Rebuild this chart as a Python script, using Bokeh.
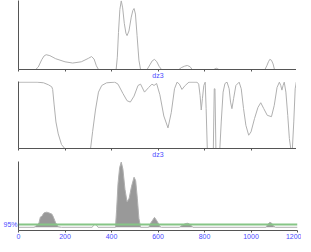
from bokeh.plotting import figure
from bokeh.layouts import column
from bokeh.models import FixedTicker, Range1d
from bokeh.embed import file_html
from bokeh.resources import INLINE

# ---- data ----
x_ticks = [0, 200, 400, 600, 800, 1000, 1200]
x_label = "dz3"
x_label_pos = 600
thr_label = "95%"

# panel 1: profile
p1_x = [0, 60, 74, 85, 100, 110, 119, 135, 160, 200, 233, 270, 300, 314, 325, 335, 344,
        420, 425, 430, 436, 442, 448, 455, 462, 467, 475, 485, 492, 497, 503, 510, 518, 525,
        553, 565, 575, 585, 595, 605, 615,
        690, 700, 715, 726, 738, 747,
        840, 851, 862,
        1060, 1068, 1075, 1081, 1088, 1095, 1101, 1200]
p1_y = [0, 0, 0, 8, 32, 44, 48, 45, 35, 25, 21, 25, 36, 42, 34, 12, 0,
        0, 40, 120, 195, 223, 200, 150, 118, 110, 125, 170, 192, 198, 180, 110, 30, 0,
        0, 15, 28, 33, 25, 10, 0,
        0, 6, 11, 13, 9, 0,
        0, 4, 0,
        0, 12, 25, 33, 30, 18, 0, 0]

# panel 2: ratio curve (0..1)
p2_x = [0, 80, 108, 129, 143, 147, 153, 161, 171, 185, 199,
        310, 319, 331, 344, 358, 379, 414, 428, 449, 467, 481, 497, 514, 525, 542, 560,
        574, 583, 594, 608, 625, 643, 657, 671, 682, 692, 703, 717, 733, 768,
        775, 781, 786, 791, 797, 803, 807, 812, 838, 842, 845, 849, 866, 872, 880, 888,
        897, 906, 912, 918, 925, 935, 949, 958, 968, 978, 990, 1000, 1015, 1030, 1042,
        1055, 1070, 1088, 1100, 1112, 1122, 1128, 1133, 1138, 1143, 1150, 1158, 1165,
        1171, 1178, 1184, 1190, 1195, 1200]
p2_y = [1.0, 1.0, 0.99, 0.96, 0.93, 0.89, 0.67, 0.40, 0.22, 0.06, 0.0,
        0.0, 0.26, 0.58, 0.85, 0.95, 0.99, 1.0, 0.97, 0.83, 0.72, 0.70, 0.79, 0.95, 0.97, 0.85, 0.92,
        0.97, 0.95, 0.98, 0.81, 0.49, 0.31, 0.54, 0.90, 1.0, 0.97, 0.89, 0.95, 1.0, 1.0,
        0.97, 0.80, 0.58, 0.75, 0.95, 1.0, 0.60, 0.0, 0.0, 0.90, 0.90, 0.0, 0.0, 0.40, 0.85, 0.98,
        1.0, 0.90, 0.70, 0.60, 0.75, 0.95, 1.0, 0.90, 0.60, 0.35, 0.20, 0.25, 0.45, 0.62, 0.69,
        0.60, 0.50, 0.48, 0.65, 0.92, 1.0, 0.95, 0.88, 0.95, 1.0, 0.85, 0.50, 0.15,
        0.0, 0.0, 0.40, 0.90, 1.0, 0.76]

# panel 3: significance profile with 95% threshold
p3_x = [0, 67, 81, 88, 94, 101, 108, 111, 122, 136, 144, 150, 160, 171, 185,
        317, 322, 328, 334, 342,
        417, 422, 428, 435, 442, 449, 458, 467, 476, 486, 497, 504, 511, 518, 525,
        560, 569, 585, 597, 608, 615,
        692, 706, 719, 729, 740, 750,
        1064, 1072, 1081, 1089, 1097, 1106, 1200]
p3_y = [0, 0, 8, 15, 35, 38, 48, 50, 52, 48, 45, 35, 15, 2, 0,
        0, 6, 10, 9, 0,
        0, 60, 150, 205, 224, 200, 130, 87, 100, 140, 172, 160, 100, 30, 0,
        0, 15, 34, 20, 3, 0,
        0, 8, 13, 14, 8, 0,
        0, 10, 17, 14, 4, 0, 0]
threshold = 10

# ---- styles ----
FW = 279
BLUE = "#4b4bff"
AXC = "#555555"
CURVE = "#b0b0b0"
FONT = "Liberation Sans"


def base_fig(fh, yr, top=0):
    p = figure(frame_width=FW, frame_height=fh, output_backend="svg", toolbar_location=None,
               x_range=Range1d(0, 1200), y_range=yr,
               min_border_left=13, min_border_right=4, min_border_top=top,
               min_border_bottom=0)
    p.outline_line_color = None
    p.grid.visible = False
    p.background_fill_color = "white"
    p.border_fill_color = "white"
    for ax in p.xaxis:
        ax.axis_line_color = AXC
        ax.major_tick_in = 0
        ax.major_tick_out = 2
        ax.minor_tick_in = 0
        ax.minor_tick_out = 2
        ax.major_tick_line_color = AXC
        ax.minor_tick_line_color = AXC
        ax.major_label_text_font = FONT
        ax.major_label_text_font_size = "7px"
        ax.major_label_text_color = BLUE
        ax.major_label_standoff = 1
    for ax in p.yaxis:
        ax.axis_line_color = AXC
        ax.major_tick_in = 0
        ax.major_tick_out = 0
        ax.minor_tick_line_color = None
        ax.major_tick_line_color = None
        ax.major_label_text_font = FONT
        ax.major_label_text_font_size = "7px"
        ax.major_label_text_color = BLUE
        ax.major_label_standoff = 1
    return p


def label_x(p):
    # unlabeled ticks every 200 (minor), one labelled "dz3" at the centre
    ax = p.xaxis[0]
    ax.ticker = FixedTicker(ticks=[x_label_pos], minor_ticks=x_ticks)
    ax.major_label_overrides = {x_label_pos: x_label}
    ax.major_tick_line_color = None
    ax.major_label_standoff = 0
    p.yaxis[0].ticker = FixedTicker(ticks=[])


# panel 1
p1 = base_fig(69, Range1d(0, 224), top=0)
label_x(p1)
p1.line(p1_x, p1_y, line_color=CURVE, line_width=1)

# panel 2
p2 = base_fig(67, Range1d(0, 1.01), top=0)
label_x(p2)
p2.line(p2_x, p2_y, line_color=CURVE, line_width=1)

# panel 3
p3 = base_fig(69, Range1d(-11, 226), top=1)
p3.xaxis[0].ticker = FixedTicker(ticks=x_ticks)
p3.xaxis[0].minor_tick_line_color = None
p3.yaxis[0].ticker = FixedTicker(ticks=[threshold])
p3.yaxis[0].major_label_overrides = {threshold: thr_label}

# filled segments (bumps exceeding the threshold)
runs = []
cur = []
for i, (xv, yv) in enumerate(zip(p3_x, p3_y)):
    if yv > 0:
        if not cur and i > 0:
            cur.append(i - 1)
        cur.append(i)
    else:
        if cur:
            cur.append(i)
            runs.append(cur)
            cur = []
xs, ys = [], []
for r in runs:
    if max(p3_y[j] for j in r) > threshold:
        xs.append([p3_x[j] for j in r])
        ys.append([p3_y[j] for j in r])
p3.patches(xs, ys, fill_color="#999999", line_color=None)
p3.line(p3_x, p3_y, line_color=CURVE, line_width=1)
p3.line([0, 1200], [threshold, threshold], line_color="#86c586", line_width=2)

layout = column(p1, p2, p3, spacing=0)
open("out.html", "w").write(file_html(layout, INLINE))
